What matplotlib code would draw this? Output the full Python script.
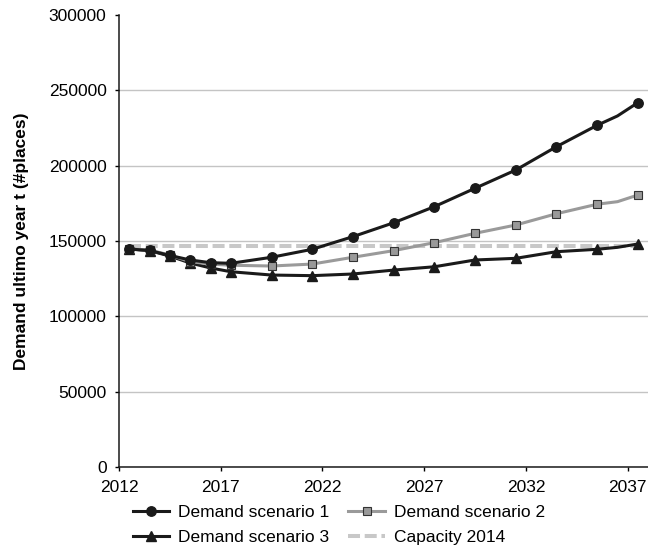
import matplotlib
matplotlib.use("Agg")
import matplotlib.pyplot as plt
import numpy as np

plt.rcParams['font.family'] = ['Liberation Sans', 'DejaVu Sans']

# ------ data (values at mid-year categories)
years = [2012, 2013, 2014, 2015, 2016, 2017, 2019, 2021, 2023, 2025,
         2027, 2029, 2031, 2033, 2035, 2036, 2037]
scenario_1 = [144700, 143700, 140400, 137400, 135600, 135200, 139200, 144500, 152900,
              162100, 172800, 185000, 197100, 212600, 226800, 233000, 241800]
scenario_2 = [144700, 144000, 140700, 136300, 134700, 133900, 133400, 134700, 139200,
              143600, 148900, 155100, 160600, 168100, 174400, 176100, 180500]
scenario_3 = [144700, 143600, 140000, 135400, 132100, 129600, 127400, 127000, 128100,
              130700, 132900, 137400, 138500, 142900, 144500, 145800, 148000]
capacity_2014 = 146900
capacity_years = [2012, 2037]
labels = ["Demand scenario 1", "Demand scenario 2", "Demand scenario 3", "Capacity 2014"]
ytick_vals = [0, 50000, 100000, 150000, 200000, 250000, 300000]
xtick_vals = [2012, 2017, 2022, 2027, 2032, 2037]

# points drawn in the middle of each year category
x = np.array(years) + 0.5
marked = [i for i, yr in enumerate(years) if yr != 2036]

fig = plt.figure(figsize=(6.48, 5.5), dpi=100)
ax = fig.add_axes([119/648, 1 - 467/550, 1 - 119/648, (467 - 15)/550])

cap_line, = ax.plot(np.array(capacity_years) + 0.5, [capacity_2014]*2, color='#c8c8c8',
                    lw=2.9, solid_capstyle='butt', dash_capstyle='butt', zorder=2)
cap_line.set_dashes((2.98, 1.17))

l1, = ax.plot(x, scenario_1, color='#1a1a1a', lw=2.2, marker='o', ms=6.8,
              markevery=marked, zorder=5)
l2, = ax.plot(x, scenario_2, color='#9a9a9a', lw=2.2, marker='s', ms=6,
              mfc='#999999', mec='#333333', mew=0.8, markevery=marked, zorder=4)
l3, = ax.plot(x, scenario_3, color='#1a1a1a', lw=2.2, marker='^', ms=7.2,
              markevery=marked, zorder=3)

ax.set_xlim(2012, 2038)
ax.set_ylim(0, 300000)
ax.set_xticks(xtick_vals)
ax.set_yticks(ytick_vals)
ax.tick_params(axis='both', labelsize=12.5, length=3, width=1, direction='out', pad=6)

ax.yaxis.grid(True, color='#c4c4c4', lw=1)
ax.set_axisbelow(True)
ax.get_ygridlines()[-1].set_visible(False)

for side in ['top', 'right']:
    ax.spines[side].set_visible(False)
for side in ['left', 'bottom']:
    ax.spines[side].set_linewidth(1.1)
    ax.spines[side].set_color('#1a1a1a')

ax.set_ylabel("Demand ultimo year t (#places)", fontsize=12.5, fontweight='bold', labelpad=14)

fig.legend([l1, l3, l2, cap_line], [labels[0], labels[2], labels[1], labels[3]],
           ncol=2, loc='upper left', bbox_to_anchor=(133/648, 1 - 505/550),
           frameon=False, fontsize=12.5, handlelength=2.1, handletextpad=0.5,
           columnspacing=1.1, labelspacing=0.55, borderpad=0, borderaxespad=0)

fig.savefig("out.png", dpi=100)
